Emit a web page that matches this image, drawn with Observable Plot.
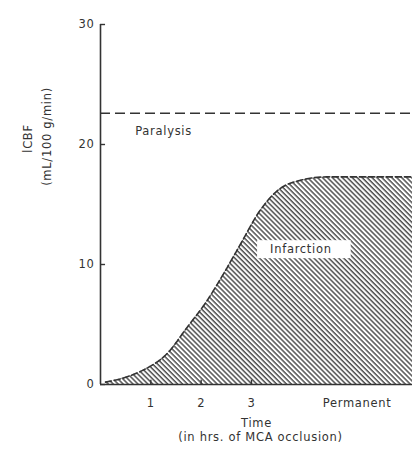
<!DOCTYPE html>
<html>
<head>
<meta charset="utf-8">
<script src="https://cdn.jsdelivr.net/npm/d3@7"></script>
<script src="https://cdn.jsdelivr.net/npm/@observablehq/plot@0.6"></script>
<style>
  html, body { margin: 0; padding: 0; background: #fff; }
  #chart svg { display: block; }
  #chart svg text { letter-spacing: 0.7px; }
</style>
</head>
<body>
<div id="chart"></div>
<script>
// Infarction threshold curve (time in hrs of MCA occlusion vs lCBF)
const timeHrs = [0.1, 0.5, 0.85, 1.33, 1.72, 2.12, 2.4, 2.79, 3.17, 3.56, 3.96, 4.5, 6.2];
const cbf     = [0.2, 0.6, 1.2,  2.6,  4.75, 7.0,  8.9, 11.75, 14.5, 16.3, 17.0, 17.3, 17.3];
// Paralysis threshold
const paralysisCBF = 22.6;
// Axis ticks
const yTicks = [0, 10, 20, 30];
const xTicks = [1, 2, 3, 5.1];
const xTickLabels = ["1", "2", "3", "Permanent"];
// Annotation labels
const labelText = ["Paralysis", "Infarction"];
const labelX = [0.69, 3.37];
const labelY = [21.1, 11.25];

const curveData = timeHrs.map((t, i) => ({t, v: cbf[i]}));
const labels = labelText.map((s, i) => ({s, x: labelX[i], y: labelY[i]}));
const ink = "#333";
const font = "'DejaVu Sans', Arial, sans-serif";
const fs = 11.5;

const plot = Plot.plot({
  width: 412,
  height: 453,
  marginLeft: 100,
  marginRight: 0,
  marginTop: 24,
  marginBottom: 69,
  style: {fontFamily: font, fontSize: fs + "px", color: ink, background: "#fff", overflow: "hidden"},
  x: {domain: [0, 6.2]},
  y: {domain: [0, 30]},
  marks: [
    Plot.areaY(curveData, {x: "t", y: "v", fill: "url(#hatch)", curve: "monotone-x"}),
    Plot.lineY(curveData, {x: "t", y: "v", stroke: ink, strokeWidth: 1.6, strokeDasharray: "6,3", curve: "monotone-x"}),
    Plot.ruleY([paralysisCBF], {x1: 0, x2: 6.2, stroke: ink, strokeWidth: 1.6, strokeDasharray: "10,5"}),
    Plot.ruleX([0], {y1: 0, y2: 30, stroke: ink, strokeWidth: 1.6}),
    Plot.ruleY([0], {x1: 0, x2: 6.2, stroke: ink, strokeWidth: 1.6}),
    Plot.ruleY(yTicks, {x1: 0, x2: 0.1, stroke: ink, strokeWidth: 1.4}),
    Plot.ruleX(xTicks.slice(0, 3), {y1: 0, y2: 0.35, stroke: ink, strokeWidth: 1.4}),
    Plot.axisY({ticks: yTicks, tickSize: 0, tickPadding: 6, label: null, fontSize: fs}),
    Plot.axisX({ticks: xTicks, tickSize: 0, tickPadding: 14, label: null, fontSize: fs,
                tickFormat: d => xTickLabels[xTicks.indexOf(d)]}),
    Plot.text(labels, {x: "x", y: "y", text: "s", textAnchor: "start", fill: ink, fontSize: fs, className: "anno"}),
    Plot.text(["lCBF"], {frameAnchor: "left", textAnchor: "middle", rotate: -90, dx: -72, dy: -66, fill: ink, fontSize: fs}),
    Plot.text(["(mL/100 g/min)"], {frameAnchor: "left", textAnchor: "middle", rotate: -90, dx: -53, dy: -68, fill: ink, fontSize: fs}),
    Plot.text(["Time"], {frameAnchor: "bottom", dy: 42, fill: ink, fontSize: fs}),
    Plot.text(["(in hrs. of MCA occlusion)"], {frameAnchor: "bottom", dy: 56, dx: 4, fill: ink, fontSize: fs})
  ]
});

document.getElementById("chart").appendChild(plot);

// hatch pattern
const svg = d3.select(plot);
svg.insert("defs", ":first-child").html(
  `<pattern id="hatch" patternUnits="userSpaceOnUse" width="3.5" height="3.5" patternTransform="rotate(-45)">
     <rect width="3.5" height="3.5" fill="#fff"/>
     <line x1="1" y1="0" x2="1" y2="3.5" stroke="#444" stroke-width="1.4"/>
   </pattern>`
);

// white box behind the "Infarction" label
svg.selectAll("g.anno text").each(function() {
  if (this.textContent !== "Infarction") return;
  const b = this.getBBox();
  const tr = this.getAttribute("transform");
  const rect = document.createElementNS("http://www.w3.org/2000/svg", "rect");
  rect.setAttribute("x", b.x - 13);
  rect.setAttribute("y", b.y - 2);
  rect.setAttribute("width", b.width + 32);
  rect.setAttribute("height", b.height + 4);
  rect.setAttribute("fill", "#fff");
  if (tr) rect.setAttribute("transform", tr);
  this.parentNode.insertBefore(rect, this);
});
</script>
</body>
</html>
